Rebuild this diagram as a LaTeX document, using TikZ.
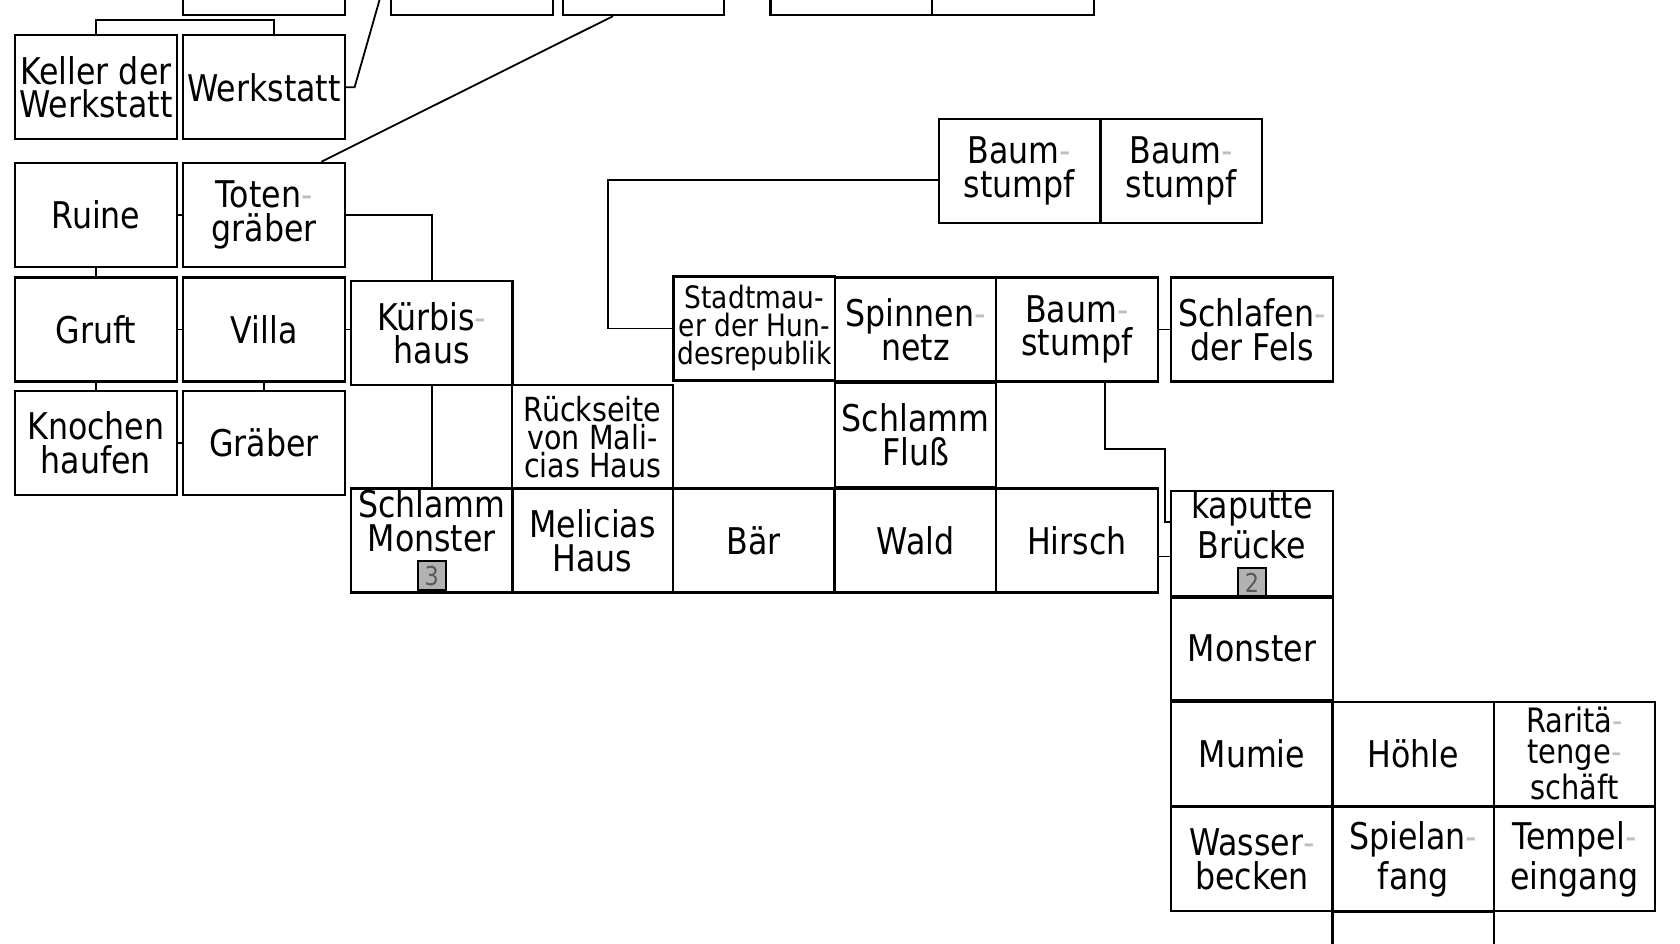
\documentclass[tikz,border=0pt]{standalone}
\usepackage{fontspec}
\setmainfont{DejaVu Sans}[FakeStretch=0.86]
\usepackage{tikz}

\newcommand{\hy}{\textcolor{black!25}{-}}
\newcommand{\badge}[1]{{\setlength{\fboxsep}{0.9pt}\setlength{\fboxrule}{0.5pt}%
  \fcolorbox{black}{black!30}{\makebox[4.6pt]{\fontsize{6.5pt}{6.5pt}\selectfont\color{black!65}#1}}}}

\begin{document}
\begin{tikzpicture}[x=0.26786pt, y=-0.26786pt,
	room/.style={draw, line width=0.55pt, inner sep=0pt, minimum width=40.4pt, minimum height=26pt,
		align=center, font=\fontsize{9.2pt}{8.4pt}\selectfont},
	link/.style={line width=0.45pt}]
		\useasboundingbox (0,0) rectangle (1568,881);
		\clip (0,0) rectangle (1568,881);

		% rooms cut off at the top
		\node[room] (top1) at (246.5,-34.5) {};
		\node[room] (top2) at (440.5,-34.5) {};
		\node[room] (top3) at (600.5,-34.5) {};
		\node[room] (top4) at (794.5,-34.5) {};
		\node[room] (top5) at (945.5,-34.5) {};

		\node[room] (keller) at (89.5,81.5) {Keller der\\Werkstatt};
		\node[room] (werkstatt) at (246.5,81.5) {Werkstatt};
		\node[room] (ruine) at (89.5,200.5) {Ruine};
		\node[room] (toten) at (246.5,200.5) {Toten\hy\\gräber};
		\node[room] (gruft) at (89.5,307.5) {Gruft};
		\node[room] (villa) at (246.5,307.5) {Villa};
		\node[room] (knochen) at (89.5,413.5) {Knochen\\haufen};
		\node[room] (graeber) at (246.5,413.5) {Gräber};
		\node[room] (kuerbis) at (403,311) {Kürbis\hy\\haus};
		\node[room, font=\fontsize{8.3pt}{7pt}\selectfont] (rueck) at (553,407.5) {Rückseite\\von Mali-\\cias Haus};

		\node[room] (schlammmonster) at (403,504.5) {Schlamm\\Monster\\\badge{3}};
		\node[room] (melicias) at (553,504.5) {Melicias\\Haus};
		\node[room] (baer) at (703.5,504.5) {Bär};
		\node[room] (wald) at (854.5,504.5) {Wald};
		\node[room] (hirsch) at (1005,504.5) {Hirsch};

		\node[room, font=\fontsize{7.7pt}{7pt}\selectfont] (stadt) at (704,306.5) {Stadtmau-\\er der Hun-\\desrepublik};
		\node[room] (spinne) at (854.5,307.5) {Spinnen\hy\\netz};
		\node[room] (baum) at (1005,307.5) {Baum\hy\\stumpf};
		\node[room] (fels) at (1168.5,307.5) {Schlafen\hy\\der Fels};
		\node[room] (fluss) at (854.5,406) {Schlamm\\Fluß};
		\node[room] (baum1) at (951.5,159.5) {Baum\hy\\stumpf};
		\node[room] (baum2) at (1102.5,159.5) {Baum\hy\\stumpf};

		\node[room] (bruecke) at (1168.5,508) {kaputte\\Brücke\\\badge{2}};
		\node[room] (monster) at (1168.5,605) {Monster};
		\node[room] (mumie) at (1168.5,703.5) {Mumie};
		\node[room] (hoehle) at (1319,703.5) {Höhle};
		\node[room, font=\fontsize{8.4pt}{7.6pt}\selectfont] (raritaet) at (1469.5,703.5) {Raritä\hy\\tenge\hy\\schäft};
		\node[room] (wasser) at (1168.5,802) {Wasser\hy\\becken};
		\node[room] (start) at (1319,802) {Spielan\hy\\fang};
		\node[room] (tempel) at (1469.5,802) {Tempel\hy\\eingang};
		% room cut off at the bottom
		\node[room] (unten) at (1319,899.5) {};

		\draw[link] (keller.north) -- ++(0,-13) -| ([xshift=2.5pt]werkstatt.north);
		\draw[link] (werkstatt.east) -- ++(8,0) -- (top2.west);
		\draw[link] ([xshift=14.3pt]toten.north) -- ([xshift=-7.6pt]top3.south);
		\draw[link] (toten.east) -| (kuerbis.north);
		\path [link] (ruine) edge (toten);
		\path [link] (ruine) edge (gruft);
		\path [link] (gruft) edge (villa);
		\path [link] (gruft) edge (knochen);
		\path [link] (villa) edge (graeber);
		\path [link] (knochen) edge (graeber);
		\draw[link] (villa.east) -- (villa.east -| kuerbis.west);
		\path [link] (kuerbis) edge (schlammmonster);
		\draw[link] (stadt.west) -- ++(-60,0) |- ([yshift=-2.3pt]baum1.west);
		\path [link] (baum) edge (fels);
		\draw[link] ([xshift=7pt]baum.south) -- ++(0,62) -- ++(56,0) |- ([yshift=5.5pt]bruecke.west);
		\coordinate (hb) at ([yshift=-4pt]hirsch.east);
		\draw[link] (hb) -- (hb -| bruecke.west);
	\end{tikzpicture}
\end{document}
